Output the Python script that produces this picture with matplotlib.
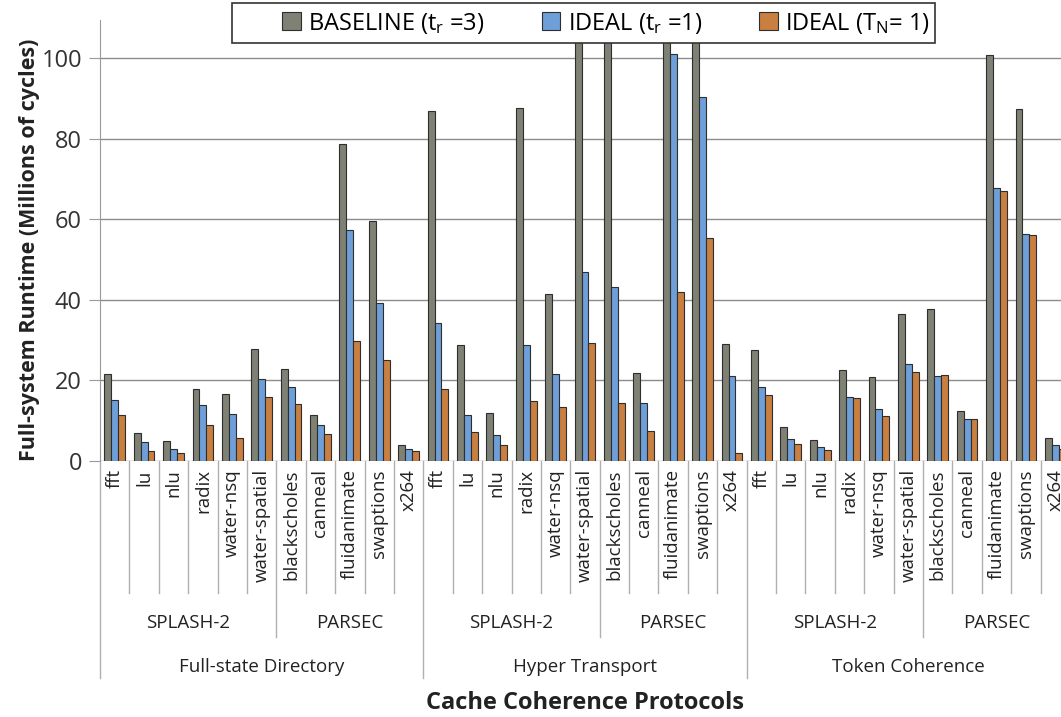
import numpy as np
import matplotlib
matplotlib.use("Agg")
import matplotlib.pyplot as plt
from matplotlib.patches import Rectangle
from matplotlib.transforms import blended_transform_factory

plt.rcParams['font.family'] = ['Open Sans', 'DejaVu Sans']
plt.rcParams['mathtext.fontset'] = 'custom'
plt.rcParams['mathtext.rm'] = 'Open Sans'
plt.rcParams['mathtext.it'] = 'Open Sans'

protocols = ['Full-state Directory', 'Hyper Transport', 'Token Coherence']
suites = ['SPLASH-2', 'PARSEC']
suite_sizes = [6, 5]
benchmarks = ['fft', 'lu', 'nlu', 'radix', 'water-nsq', 'water-spatial',
              'blackscholes', 'canneal', 'fluidanimate', 'swaptions', 'x264']

# runtime in millions of cycles (bars over ~110 are clipped there)
baseline = [21.7, 6.9, 5.0, 17.8, 16.7, 27.7, 22.7, 11.3, 78.6, 59.5, 4.0,
            86.8, 28.7, 11.9, 87.6, 41.5, 125.0, 125.0, 21.8, 125.0, 125.0, 29.0,
            27.5, 8.4, 5.3, 22.6, 20.8, 36.4, 37.6, 12.4, 100.6, 87.2, 5.7]
ideal_tr = [15.1, 4.6, 3.0, 14.0, 11.7, 20.3, 18.3, 8.9, 57.4, 39.1, 2.9,
            34.3, 11.5, 6.5, 28.8, 21.5, 47.0, 43.1, 14.5, 101.0, 90.4, 21.2,
            18.3, 5.4, 3.4, 16.0, 13.0, 24.0, 21.0, 10.3, 67.6, 56.4, 4.0]
ideal_tn = [11.3, 2.6, 1.9, 8.9, 5.8, 16.0, 14.1, 6.6, 29.7, 25.0, 2.4,
            17.8, 7.2, 3.9, 14.8, 13.3, 29.3, 14.5, 7.5, 42.0, 55.2, 2.0,
            16.4, 4.3, 2.7, 15.6, 11.2, 22.0, 21.3, 10.3, 66.9, 56.0, 3.0]

series = [baseline, ideal_tr, ideal_tn]
labels = [r'BASELINE (t$_\mathregular{r}$ =3)', r'IDEAL (t$_\mathregular{r}$ =1)',
          r'IDEAL (T$_\mathregular{N}$= 1)']
colors = ['#7e8174', '#6e9fd8', '#c97f40']

n = len(benchmarks) * len(protocols)
x = np.arange(n) + 0.5
w = 0.235

fig = plt.figure(figsize=(10.61, 7.17), dpi=100)
ax = fig.add_axes([100/1061, (717-461)/717, 970/1061, 441/717])

for k, (vals, c, lab) in enumerate(zip(series, colors, labels)):
    ax.bar(x + (k-1)*w, vals, w, color=c, edgecolor='#2e2e2e', linewidth=0.8,
           label=lab, zorder=3)

ax.set_xlim(0, n)
ax.set_ylim(0, 109.4)
ax.set_yticks([0, 20, 40, 60, 80, 100])
ax.tick_params(axis='y', labelsize=17, length=8, color='#999999', pad=5, labelcolor='#333333')
ax.yaxis.grid(True, color='#8c8c8c', linewidth=1.0, zorder=0)
for s in ['top', 'right', 'bottom']:
    ax.spines[s].set_visible(False)
ax.spines['left'].set_color('#999999')

ax.set_xticks(x)
ax.set_xticklabels(benchmarks * 3, rotation=90, fontsize=13.5, color='#222222')
ax.tick_params(axis='x', length=0, pad=6)

tr = blended_transform_factory(ax.transData, ax.transAxes)
lc = '#b0b0b0'
for i in range(n + 1):
    if i % 11 == 0:
        y_end = -0.492
    elif i % 11 == 6:
        y_end = -0.399
    else:
        y_end = -0.299
    ax.plot([i, i], [0, y_end], transform=tr, color=lc, lw=1, clip_on=False)

for p, prot in enumerate(protocols):
    start = p * 11
    pos = start
    for s, sz in zip(suites, suite_sizes):
        ax.text(pos + sz/2, -0.367, s, transform=tr, ha='center', va='center',
                fontsize=13.5, color='#222222')
        pos += sz
    ax.text(start + 5.5, -0.467, prot, transform=tr, ha='center', va='center',
            fontsize=13.5, color='#222222')

ax.text(0.5, -0.549, 'Cache Coherence Protocols', transform=ax.transAxes,
        ha='center', va='center', fontsize=17, fontweight='bold', color='#222222')
fig.text(30/1061, 1-250/717, 'Full-system Runtime (Millions of cycles)', rotation=90,
         ha='center', va='center', fontsize=15.5, fontweight='bold', color='#222222')

# legend box is wider than its entries in the original, so draw it separately
box = Rectangle((232/1061, 1-43/717), 703/1061, 40/717, transform=fig.transFigure,
                facecolor='white', edgecolor='#333333', linewidth=1.2, zorder=4)
fig.patches.append(box)
leg = fig.legend(loc='center', bbox_to_anchor=(606/1061, 1-23/717), ncol=3,
                 fontsize=17, frameon=False, handlelength=0.8,
                 handleheight=0.8, handletextpad=0.3, columnspacing=2.4,
                 borderpad=0, borderaxespad=0)
leg.set_zorder(5)

fig.savefig('out.png', dpi=100)
